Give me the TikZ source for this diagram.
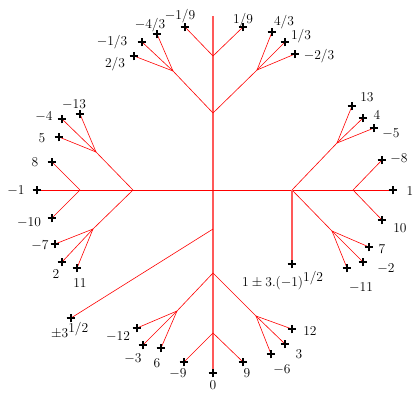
\documentclass[tikz,border=0pt]{standalone}
\usetikzlibrary{shapes.misc}
\newcommand{\lb}[1]{\scalebox{0.94}{$#1$}}
\tikzset{
  edge/.style={red, line width=0.6pt},
  trunk/.style={red!65, line width=1.4pt},
  plusmark/.style={cross out, draw=black, line width=1.1pt, rotate=45, minimum size=6.2pt, inner sep=0pt, outer sep=0pt},
  lbl/.style={anchor=base, inner sep=0pt, font=\fontsize{14.4}{17}\selectfont},
  lblw/.style={lbl, anchor=base west}
}
\begin{document}
\begin{tikzpicture}[x=1pt,y=-1pt]
\useasboundingbox (0,0) rectangle (414,392);
% junctions
\coordinate (c) at (213,190);
\coordinate (t1) at (213,113); \coordinate (t2) at (213,56); \coordinate (ttop) at (213,16);
\coordinate (tl) at (173,71); \coordinate (tr) at (257,70);
\coordinate (l1) at (133,190); \coordinate (l2) at (80,190);
\coordinate (lu) at (96,152); \coordinate (ld) at (93,229);
\coordinate (r1) at (292,190); \coordinate (r2) at (353,190);
\coordinate (ru) at (337,143); \coordinate (rd) at (332,231);
\coordinate (b0) at (213,229); \coordinate (b1) at (213,273); \coordinate (b2) at (213,333);
\coordinate (bl) at (177,311); \coordinate (br) at (256,316);
% leaves
\coordinate (p19) at (243,27); \coordinate (pm19) at (185,27);
\coordinate (p23) at (134,56); \coordinate (pm13) at (142,42); \coordinate (pm43) at (157,34);
\coordinate (p43) at (272,32); \coordinate (p13) at (285,42); \coordinate (pm23) at (295,54);
\coordinate (pm1) at (37,190); \coordinate (p8) at (52,162); \coordinate (pm10) at (52,218);
\coordinate (pm4) at (62,119); \coordinate (pm13b) at (80,114); \coordinate (p5) at (59,137);
\coordinate (pm7) at (55,244); \coordinate (p2) at (62,262); \coordinate (p11) at (77,268);
\coordinate (p1) at (393,190); \coordinate (pm8) at (382,160); \coordinate (p10) at (382,220);
\coordinate (p13b) at (352,106); \coordinate (p4) at (363,118); \coordinate (pm5) at (374,128);
\coordinate (p7) at (369,247); \coordinate (pm2) at (363,262); \coordinate (pm11) at (347,268);
\coordinate (pi) at (292,264);
\coordinate (ps3) at (71,318);
\coordinate (pm12) at (137,328); \coordinate (pm3) at (143,345); \coordinate (p6) at (161,348);
\coordinate (pm9) at (184,362); \coordinate (p0) at (213,373);
\coordinate (p12) at (292,329); \coordinate (p3) at (285,344); \coordinate (pm6) at (271,354);
\coordinate (p9) at (243,362);
% edges
\draw[trunk] (ttop) -- (p0);
\draw[edge] (pm1) -- (p1);
\draw[edge] (t1) -- (tl); \draw[edge] (t1) -- (tr);
\draw[edge] (t2) -- (p19); \draw[edge] (t2) -- (pm19);
\draw[edge] (tl) -- (p23); \draw[edge] (tl) -- (pm13); \draw[edge] (tl) -- (pm43);
\draw[edge] (tr) -- (p43); \draw[edge] (tr) -- (p13); \draw[edge] (tr) -- (pm23);
\draw[edge] (l1) -- (lu); \draw[edge] (l1) -- (ld);
\draw[edge] (l2) -- (p8); \draw[edge] (l2) -- (pm10);
\draw[edge] (lu) -- (pm4); \draw[edge] (lu) -- (pm13b); \draw[edge] (lu) -- (p5);
\draw[edge] (ld) -- (pm7); \draw[edge] (ld) -- (p2); \draw[edge] (ld) -- (p11);
\draw[edge] (r1) -- (ru); \draw[edge] (r1) -- (rd); \draw[trunk] (r1) -- (pi);
\draw[edge] (r2) -- (pm8); \draw[edge] (r2) -- (p10);
\draw[edge] (ru) -- (p13b); \draw[edge] (ru) -- (p4); \draw[edge] (ru) -- (pm5);
\draw[edge] (rd) -- (p7); \draw[edge] (rd) -- (pm2); \draw[edge] (rd) -- (pm11);
\draw[edge] (b0) -- (ps3);
\draw[edge] (b1) -- (bl); \draw[edge] (b1) -- (br);
\draw[edge] (b2) -- (pm9); \draw[edge] (b2) -- (p9);
\draw[edge] (bl) -- (pm12); \draw[edge] (bl) -- (pm3); \draw[edge] (bl) -- (p6);
\draw[edge] (br) -- (p12); \draw[edge] (br) -- (p3); \draw[edge] (br) -- (pm6);
% plus marks
\foreach \q in {p19,pm19,p23,pm13,pm43,p43,p13,pm23,pm1,p8,pm10,pm4,pm13b,p5,pm7,p2,p11,
  p1,pm8,p10,p13b,p4,pm5,p7,pm2,pm11,pi,ps3,pm12,pm3,p6,pm9,p0,p12,p3,pm6,p9}
  \node[plusmark] (m\q) at (\q) {};
% labels
\node[lbl] (L1) at (243,23) {\lb{1/9}};
\node[lbl] (L2) at (180,19) {\lb{-1/9}};
\node[lbl] (L3) at (150,28) {\lb{-4/3}};
\node[lbl] (L4) at (284,25) {\lb{4/3}};
\node[lbl] (L5) at (112,45) {\lb{-1/3}};
\node[lbl] (L6) at (301,39) {\lb{1/3}};
\node[lbl] (L7) at (115,67) {\lb{2/3}};
\node[lbl] (L8) at (319,59) {\lb{-2/3}};
\node[lbl] (L9) at (74,108) {\lb{-13}};
\node[lbl] (L10) at (44,120) {\lb{-4}};
\node[lbl] (L11) at (42,142) {\lb{5}};
\node[lbl] (L12) at (35,166) {\lb{8}};
\node[lbl] (L13) at (16,194) {\lb{-1}};
\node[lbl] (L14) at (29,226) {\lb{-10}};
\node[lbl] (L15) at (40,249) {\lb{-7}};
\node[lbl] (L16) at (56,278) {\lb{2}};
\node[lbl] (L17) at (80,287) {\lb{11}};
\node[lbl] (L18) at (367,101) {\lb{13}};
\node[lbl] (L19) at (377,119) {\lb{4}};
\node[lbl] (L20) at (391,137) {\lb{-5}};
\node[lbl] (L21) at (399,162) {\lb{-8}};
\node[lbl] (L22) at (410,195) {\lb{1}};
\node[lbl] (L23) at (400,232) {\lb{10}};
\node[lbl] (L24) at (382,253) {\lb{7}};
\node[lbl] (L25) at (386,272) {\lb{-2}};
\node[lbl] (L26) at (361,291) {\lb{-11}};
\node[lblw] (L27) at (242,286) {\lb{1\pm3.(-1)^{\textstyle 1/2}}};
\node[lblw] (L28) at (51,337) {\lb{\pm3^{\textstyle 1/2}}};
\node[lbl] (L29) at (118,340) {\lb{-12}};
\node[lbl] (L30) at (133,362) {\lb{-3}};
\node[lbl] (L31) at (157,367) {\lb{6}};
\node[lbl] (L32) at (178,377) {\lb{-9}};
\node[lbl] (L33) at (213,389) {\lb{0}};
\node[lbl] (L34) at (310,335) {\lb{12}};
\node[lbl] (L35) at (299,358) {\lb{3}};
\node[lbl] (L36) at (282,373) {\lb{-6}};
\node[lbl] (L37) at (247,377) {\lb{9}};
\end{tikzpicture}
\end{document}
